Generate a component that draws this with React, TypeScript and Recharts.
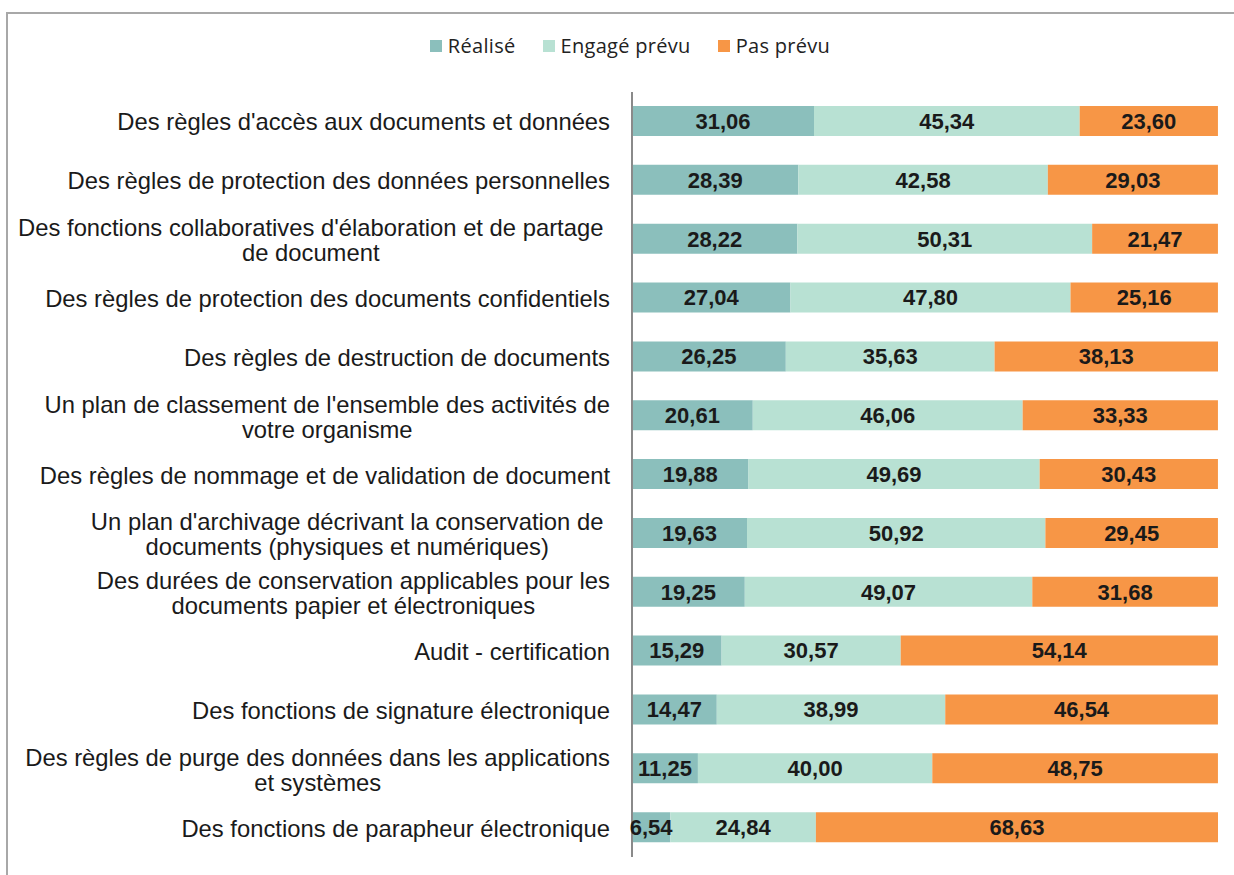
import React from 'react';
import { BarChart, Bar, XAxis, YAxis, LabelList } from 'recharts';

const categories: string[] = [
  "Des règles d'accès aux documents et données",
  "Des règles de protection des données personnelles",
  "Des fonctions collaboratives  d'élaboration  et de partage\nde document",
  "Des règles de protection des documents confidentiels",
  "Des règles de destruction de documents",
  "Un plan de classement de l'ensemble des activités de\nvotre organisme",
  "Des règles de nommage et de validation de document",
  "Un plan d'archivage  décrivant la conservation  de\ndocuments (physiques et numériques)",
  "Des durées de conservation applicables pour les\ndocuments papier et électroniques",
  "Audit - certification",
  "Des fonctions de signature électronique",
  "Des règles de purge des données dans les applications\net systèmes",
  "Des fonctions de parapheur électronique",
];
const realise: number[] = [31.06, 28.39, 28.22, 27.04, 26.25, 20.61, 19.88, 19.63, 19.25, 15.29, 14.47, 11.25, 6.54];
const engage: number[] = [45.34, 42.58, 50.31, 47.8, 35.63, 46.06, 49.69, 50.92, 49.07, 30.57, 38.99, 40.0, 24.84];
const pasPrevu: number[] = [23.6, 29.03, 21.47, 25.16, 38.13, 33.33, 30.43, 29.45, 31.68, 54.14, 46.54, 48.75, 68.63];
const seriesNames = ['Réalisé', 'Engagé prévu', 'Pas prévu'];
const colors = ['#8BBFBC', '#B8E1D3', '#F79646'];

const data = categories.map((c, i) => ({ name: c, r: realise[i], e: engage[i], p: pasPrevu[i] }));

const LABEL_FONT = "23.8px 'Liberation Sans', Arial, sans-serif";
let ctx: CanvasRenderingContext2D | null = null;
function measure(t: string): number {
  if (!ctx) {
    const c = document.createElement('canvas');
    ctx = c.getContext('2d');
  }
  if (!ctx) return t.length * 11;
  ctx.font = LABEL_FONT;
  return ctx.measureText(t).width;
}

const CatTick = (props: any) => {
  const { x, y, payload } = props;
  const lines: string[] = String(payload.value).split('\n');
  const right = x - 14;
  const lh = 25;
  if (lines.length === 1) {
    return (
      <text x={right} y={y} dy={9} textAnchor="end" fill="#1a1a1a" style={{ font: LABEL_FONT }}>
        {lines[0]}
      </text>
    );
  }
  const maxW = Math.max(...lines.map(measure));
  const cx = right - maxW / 2;
  const y0 = y - ((lines.length - 1) * lh) / 2;
  return (
    <g>
      {lines.map((l, i) => (
        <text key={i} x={cx} y={y0 + i * lh} dy={9.5} textAnchor="middle" fill="#1a1a1a" style={{ font: LABEL_FONT }}>
          {l}
        </text>
      ))}
    </g>
  );
};

const fmt = (v: any) => Number(v).toFixed(2).replace('.', ',');

const labelStyle = { font: "bold 22px 'Liberation Sans', Arial, sans-serif", fill: '#1a1a1a' };

export default function App() {
  return (
    <div style={{ position: 'absolute', left: 0, top: 0, width: 1234, height: 875, background: '#fff', overflow: 'hidden' }}>
      <div style={{ position: 'absolute', left: 6, top: 12, width: 1228, height: 863, borderTop: '2px solid #a8a8a8', borderLeft: '2px solid #a8a8a8' }} />
      <div style={{ position: 'absolute', left: 0, top: 0 }}>
        <BarChart
          width={1234}
          height={875}
          data={data}
          layout="vertical"
          margin={{ top: 92, right: 16, bottom: 18, left: 0 }}
          barSize={30}
        >
          <XAxis type="number" domain={[0, 100]} hide />
          <YAxis
            type="category"
            dataKey="name"
            width={632}
            axisLine={{ stroke: '#8a8a8a', strokeWidth: 2 }}
            tickLine={false}
            tick={<CatTick />}
            interval={0}
          />
          <Bar dataKey="r" stackId="a" fill={colors[0]} isAnimationActive={false} name={seriesNames[0]}>
            <LabelList dataKey="r" position="center" formatter={fmt} style={labelStyle} />
          </Bar>
          <Bar dataKey="e" stackId="a" fill={colors[1]} isAnimationActive={false} name={seriesNames[1]}>
            <LabelList dataKey="e" position="center" formatter={fmt} style={labelStyle} />
          </Bar>
          <Bar dataKey="p" stackId="a" fill={colors[2]} isAnimationActive={false} name={seriesNames[2]}>
            <LabelList dataKey="p" position="center" formatter={fmt} style={labelStyle} />
          </Bar>
        </BarChart>
      </div>
      <div style={{ position: 'absolute', left: 13, top: 32, width: 1234, display: 'flex', justifyContent: 'center', fontFamily: "'Open Sans', 'DejaVu Sans', sans-serif", fontSize: 20, color: '#222', letterSpacing: 0.3 }}>
        {seriesNames.map((n, i) => (
          <div key={n} style={{ display: 'flex', alignItems: 'center', marginLeft: i ? 27 : 0 }}>
            <div style={{ width: 12, height: 12, background: colors[i], marginRight: 6 }} />
            <span>{n}</span>
          </div>
        ))}
      </div>
    </div>
  );
}
